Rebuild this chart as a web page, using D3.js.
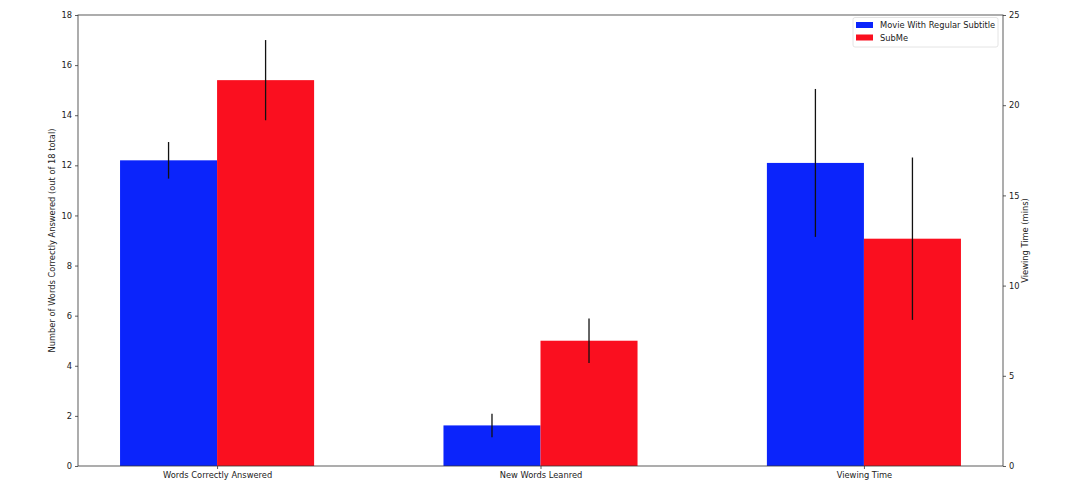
<!DOCTYPE html>
<html><head><meta charset="utf-8">
<script src="https://cdn.jsdelivr.net/npm/d3@7"></script>
<style>
body{margin:0;background:#fff;}
text{font-family:"DejaVu Sans",sans-serif;fill:#222;}
</style></head>
<body><svg id="c" width="1080" height="504"></svg>
<script>
const categories = ["Words Correctly Answered", "New Words Leanred", "Viewing Time"];
const seriesNames = ["Movie With Regular Subtitle", "SubMe"];
const regularValues = [12.2, 1.62, 16.8];
const regularErrors = [0.73, 0.47, 4.1];
const submeValues = [15.4, 5.0, 12.6];
const submeErrors = [1.6, 0.89, 4.5];
const useRightAxis = [false, false, true];
const leftTicks = [0, 2, 4, 6, 8, 10, 12, 14, 16, 18];
const rightTicks = [0, 5, 10, 15, 20, 25];
const colors = ["#0b24fb", "#fa0f1f"];

const FS = 8.3;
const svg = d3.select("#c");
const L = 78, R = 1003, T = 15, B = 466;
const x = d3.scaleLinear().domain([-0.43, 2.43]).range([L, R]);
const yL = d3.scaleLinear().domain([0, 18]).range([B, T]);
const yR = d3.scaleLinear().domain([0, 25]).range([B, T]);
const bw = 0.3;

const series = [
  {vals: regularValues, errs: regularErrors, off: -bw/2, color: colors[0]},
  {vals: submeValues, errs: submeErrors, off: bw/2, color: colors[1]}
];
series.forEach(s => {
  const g = svg.append("g");
  g.selectAll("rect").data(categories).join("rect")
    .attr("x", (d,i) => x(i + s.off - bw/2))
    .attr("width", (d,i) => x(i + s.off + bw/2) - x(i + s.off - bw/2))
    .attr("y", (d,i) => (useRightAxis[i] ? yR : yL)(s.vals[i]))
    .attr("height", (d,i) => B - (useRightAxis[i] ? yR : yL)(s.vals[i]))
    .attr("fill", s.color);
});
series.forEach(s => {
  svg.append("g").selectAll("line").data(categories).join("line")
    .attr("x1", (d,i) => x(i + s.off)).attr("x2", (d,i) => x(i + s.off))
    .attr("y1", (d,i) => (useRightAxis[i] ? yR : yL)(s.vals[i] + s.errs[i]))
    .attr("y2", (d,i) => (useRightAxis[i] ? yR : yL)(s.vals[i] - s.errs[i]))
    .attr("stroke", "#111").attr("stroke-width", 1.3);
});

svg.append("rect").attr("x", L).attr("y", T).attr("width", R-L).attr("height", B-T)
  .attr("fill", "none").attr("stroke", "#333").attr("stroke-width", 0.8);

const styleAxis = g => {
  g.select(".domain").remove();
  g.selectAll(".tick line").attr("stroke", "#333").attr("stroke-width", 0.8);
  g.selectAll(".tick text").attr("font-size", FS).attr("fill", "#222");
};
svg.append("g").attr("transform", `translate(${L},0)`)
  .call(d3.axisLeft(yL).tickValues(leftTicks).tickSize(3).tickPadding(3)).call(styleAxis);
svg.append("g").attr("transform", `translate(${R},0)`)
  .call(d3.axisRight(yR).tickValues(rightTicks).tickSize(3).tickPadding(3)).call(styleAxis);
svg.append("g").attr("transform", `translate(0,${B})`)
  .call(d3.axisBottom(x).tickValues([0,1,2]).tickFormat(i => categories[i]).tickSize(3).tickPadding(3)).call(styleAxis);

svg.append("text").attr("transform", `translate(55,${(T+B)/2}) rotate(-90)`)
  .attr("text-anchor", "middle").attr("font-size", FS).text("Number of Words Correctly Answered (out of 18 total)");
svg.append("text").attr("transform", `translate(1028,${(T+B)/2}) rotate(-90)`)
  .attr("text-anchor", "middle").attr("font-size", FS).text("Viewing Time (mins)");

const lg = svg.append("g");
lg.append("rect").attr("x", 853).attr("y", 17.5).attr("width", 145).attr("height", 29.5)
  .attr("fill", "#fff").attr("fill-opacity", 0.8).attr("stroke", "#ddd").attr("stroke-width", 0.8).attr("rx", 2);
seriesNames.forEach((n, i) => {
  lg.append("rect").attr("x", 856).attr("y", 22 + i*12.5).attr("width", 17).attr("height", 6).attr("fill", colors[i]);
  lg.append("text").attr("x", 880).attr("y", 28 + i*12.5).attr("font-size", FS).text(n);
});
</script></body></html>
